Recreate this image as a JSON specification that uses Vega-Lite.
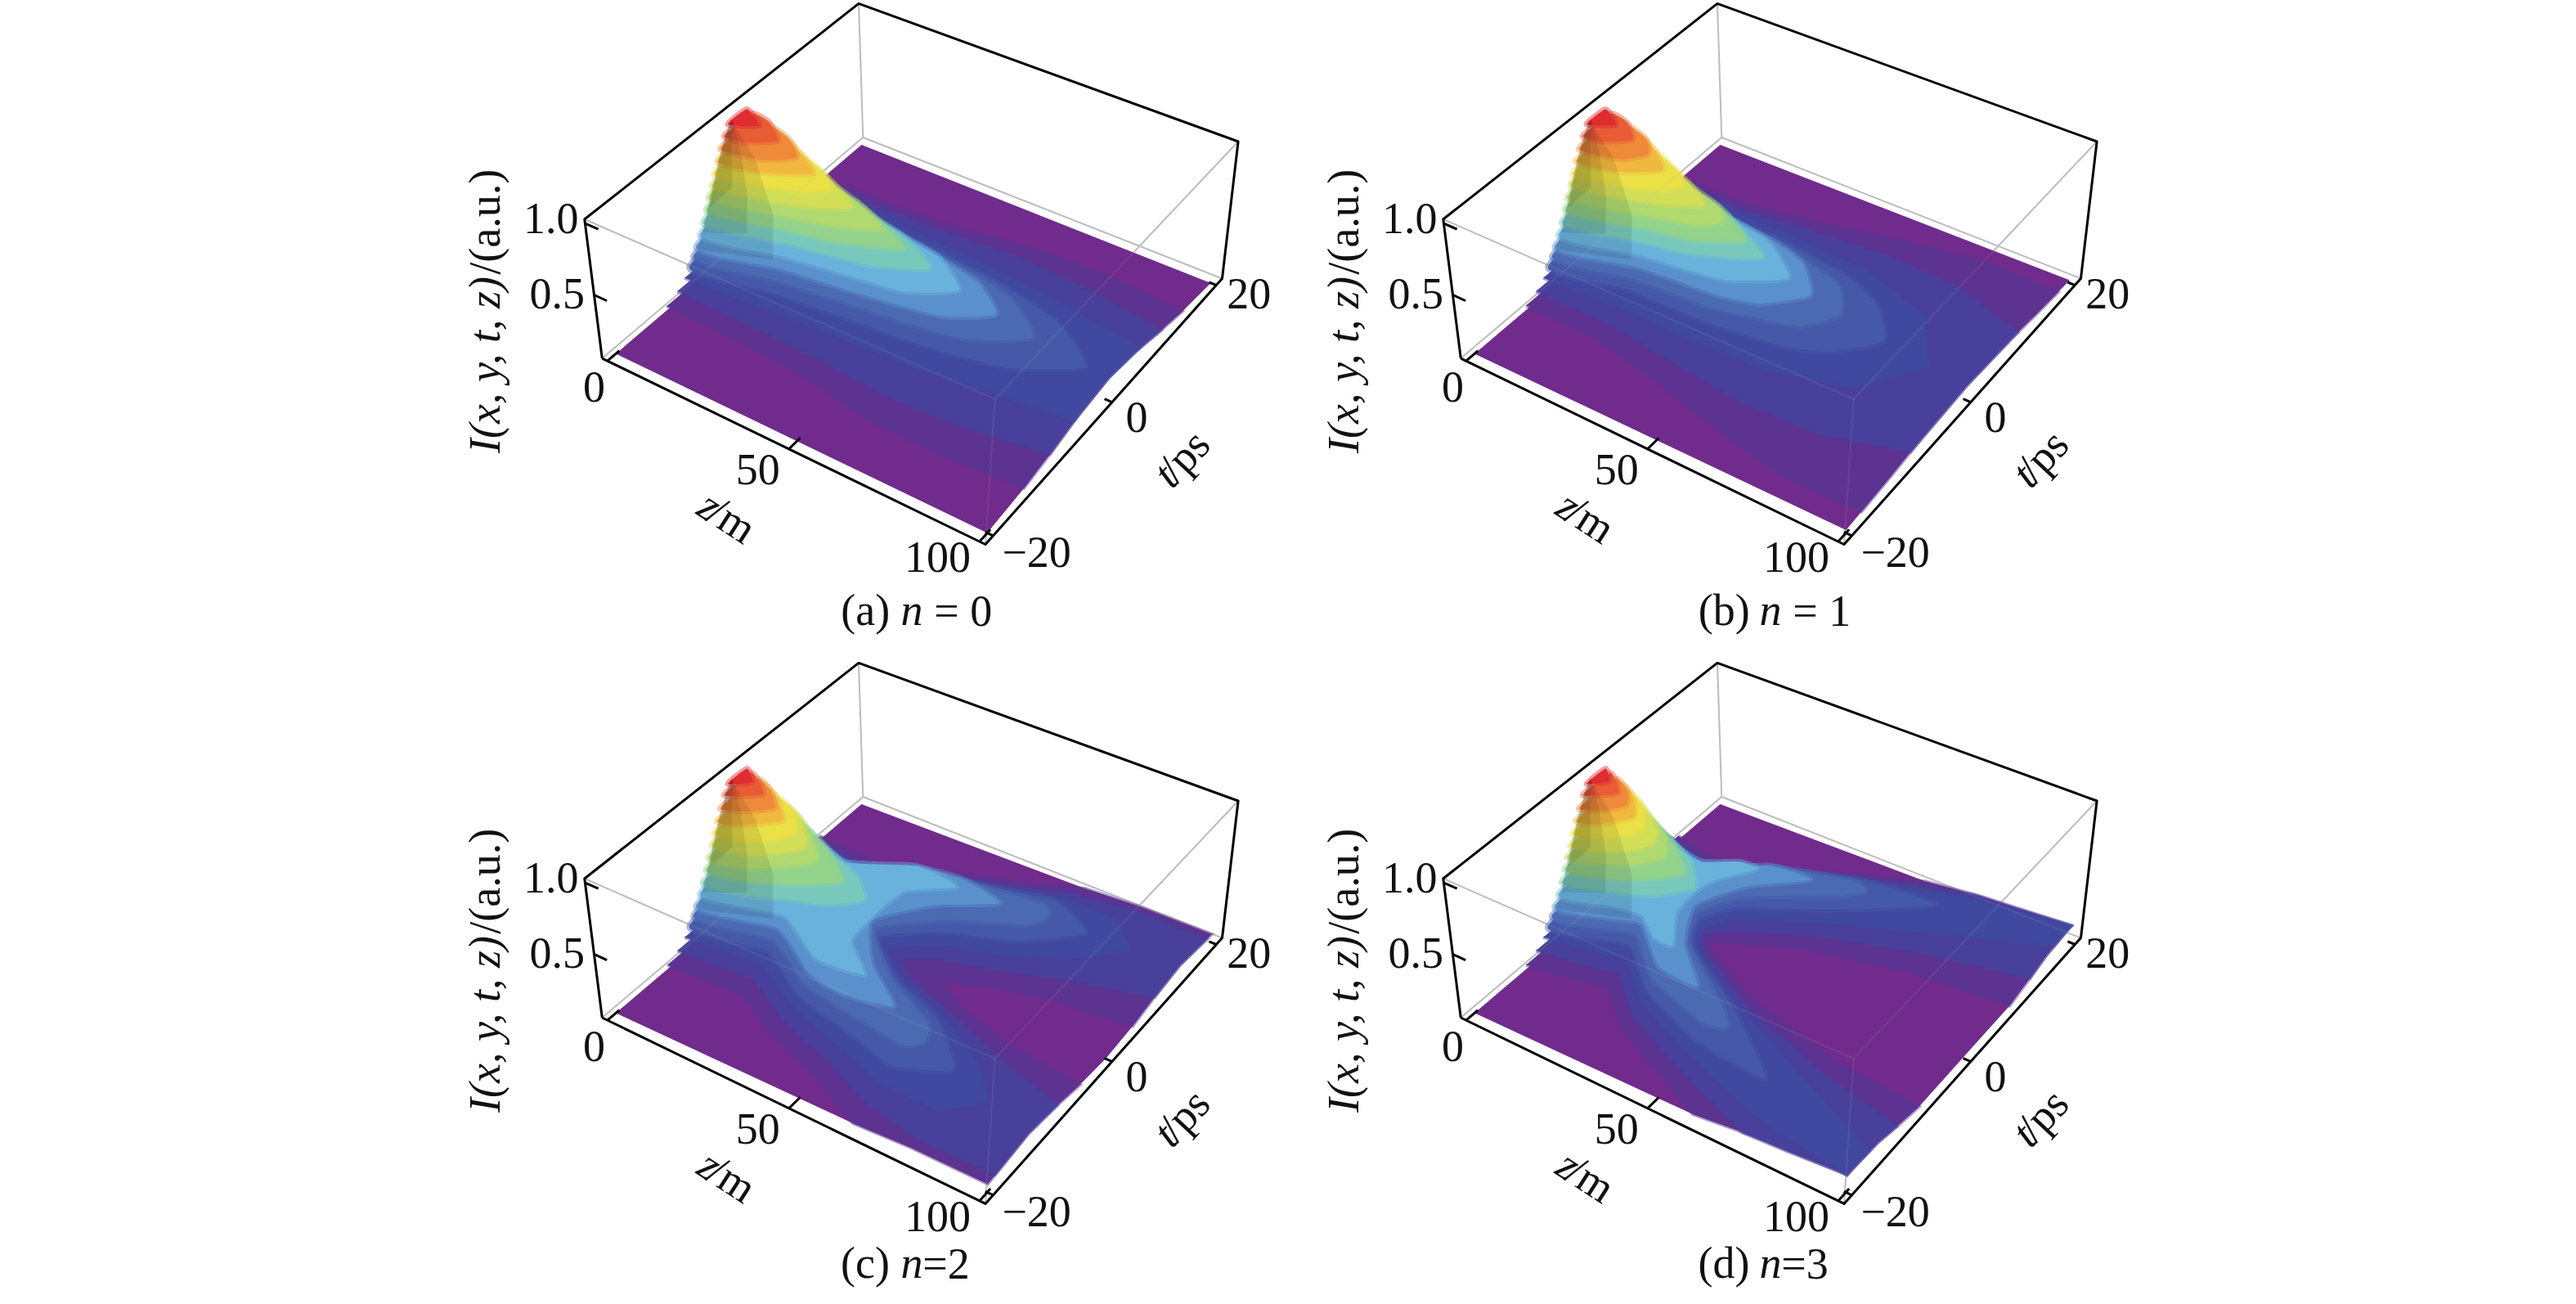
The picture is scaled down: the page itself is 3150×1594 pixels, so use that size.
{"$schema":"https://vega.github.io/schema/vega-lite/v6.json","background":"white","padding":{"left":537,"top":0,"right":0,"bottom":0},"spacing":0,"bounds":"flush","columns":2,"config":{"view":{"stroke":null}},
"data":{"values":[
{"p":"*","c":"g","e":"g1","z":-1.5,"t":-21.2,"i":103.1},{"p":"*","c":"g","e":"g1","z":101.5,"t":-21.2,"i":103.1},{"p":"*","c":"g","e":"g1","z":101.5,"t":21.2,"i":103.1},
{"p":"*","c":"g","e":"g2","z":-1.5,"t":21.2,"i":103.1},{"p":"*","c":"g","e":"g2","z":-1.5,"t":21.2,"i":0},{"p":"*","c":"g","e":"g2","z":101.5,"t":21.2,"i":0},
{"p":"*","c":"g","e":"g3","z":-1.5,"t":-21.2,"i":0},{"p":"*","c":"g","e":"g3","z":-1.5,"t":21.2,"i":0},
{"p":"*","c":"g","e":"g4","z":101.5,"t":-21.2,"i":103.1},{"p":"*","c":"g","e":"g4","z":101.5,"t":-21.2,"i":0},
{"p":"*","c":"k","e":"k1","z":-1.5,"t":-21.2,"i":0},{"p":"*","c":"k","e":"k1","z":-1.5,"t":-21.2,"i":103.1},{"p":"*","c":"k","e":"k1","z":-1.5,"t":21.2,"i":103.1},{"p":"*","c":"k","e":"k1","z":101.5,"t":21.2,"i":103.1},{"p":"*","c":"k","e":"k1","z":101.5,"t":21.2,"i":0},{"p":"*","c":"k","e":"k1","z":101.5,"t":-21.2,"i":0},{"p":"*","c":"k","e":"k1","z":-1.5,"t":-21.2,"i":0},
{"p":"*","c":"k","e":"z0","z":0,"t":-21.2,"i":0},{"p":"*","c":"k","e":"z0","z":0,"t":-19.5,"i":0},{"p":"*","c":"k","e":"z5","z":50,"t":-21.2,"i":0},{"p":"*","c":"k","e":"z5","z":50,"t":-19.5,"i":0},{"p":"*","c":"k","e":"z9","z":100,"t":-21.2,"i":0},{"p":"*","c":"k","e":"z9","z":100,"t":-19.5,"i":0},
{"p":"*","c":"k","e":"t0","z":101.5,"t":-20,"i":0},{"p":"*","c":"k","e":"t0","z":99.5,"t":-20,"i":0},{"p":"*","c":"k","e":"t5","z":101.5,"t":0,"i":0},{"p":"*","c":"k","e":"t5","z":99.5,"t":0,"i":0},{"p":"*","c":"k","e":"t9","z":101.5,"t":20,"i":0},{"p":"*","c":"k","e":"t9","z":99.5,"t":20,"i":0},
{"p":"*","c":"k","e":"i5","z":-1.5,"t":-21.2,"i":47},{"p":"*","c":"k","e":"i5","z":2,"t":-21.2,"i":47},{"p":"*","c":"k","e":"i9","z":-1.5,"t":-21.2,"i":100},{"p":"*","c":"k","e":"i9","z":2,"t":-21.2,"i":100},
{"p":"*","h":1,"z":0,"t":-7.4,"i":24},{"p":"*","h":1,"z":0,"t":-6.6,"i":33},{"p":"*","h":1,"z":0,"t":-5.4,"i":47},{"p":"*","h":1,"z":0,"t":-4.4,"i":61},{"p":"*","h":1,"z":0,"t":-3.3,"i":75},{"p":"*","h":1,"z":0,"t":-2,"i":89},{"p":"*","h":1,"z":0,"t":-1,"i":97},{"p":"*","h":1,"z":8,"t":-2,"i":80},{"p":"*","h":1,"z":15,"t":-3.5,"i":52},{"p":"*","h":1,"z":18,"t":-5.5,"i":30},
{"p":"*","h":2,"z":0,"t":-6.4,"i":33},{"p":"*","h":2,"z":0,"t":-5.3,"i":47},{"p":"*","h":2,"z":0,"t":-4.3,"i":61},{"p":"*","h":2,"z":0,"t":-3.2,"i":75},{"p":"*","h":2,"z":0,"t":-1.9,"i":89},{"p":"*","h":2,"z":0,"t":-0.8,"i":97},{"p":"*","h":2,"z":4,"t":-2,"i":82},{"p":"*","h":2,"z":8,"t":-3.5,"i":58},{"p":"*","h":2,"z":10,"t":-5,"i":38},
{"p":"*","h":3,"z":0,"t":-5.1,"i":47},{"p":"*","h":3,"z":0,"t":-4.1,"i":61},{"p":"*","h":3,"z":0,"t":-3.1,"i":75},{"p":"*","h":3,"z":0,"t":-1.8,"i":89},{"p":"*","h":3,"z":0,"t":-0.7,"i":97},{"p":"*","h":3,"z":2,"t":-2.2,"i":82},{"p":"*","h":3,"z":4,"t":-3.6,"i":60},
{"p":"*","f":"r","o":"h","s":"0","z":3.5,"t":-24.8},{"p":"*","f":"r","o":"h","s":"50","z":48.5,"t":-24.9},{"p":"*","f":"r","o":"h","s":"100","z":95.3,"t":-24.8},{"p":"*","f":"r","o":"h","s":"−20","z":112.1,"t":-19.7},{"p":"*","f":"r","o":"h","s":"0","z":109,"t":-0.7},{"p":"*","f":"r","o":"h","s":"20","z":109.8,"t":20.4},{"p":"*","f":"r","o":"h","s":"1.0","z":-42.7,"t":-8.1},{"p":"*","f":"r","o":"h","s":"0.5","z":-23.5,"t":-16.7},
{"p":"*","f":"i","o":"z","s":"z","z":46.5,"t":-30.7},{"p":"*","f":"r","o":"z","s":"/m","z":52.9,"t":-31},{"p":"*","f":"i","o":"t","s":"t","z":123.8,"t":-5.6},{"p":"*","f":"r","o":"t","s":"/ps","z":124.2,"t":-2.5},
{"p":"*","f":"i","o":"v","s":"I(x, y, t, z)","z":-20.6,"t":-27.8},{"p":"*","f":"r","o":"v","s":"/(a.u.)","z":-54.2,"t":-12},
{"p":"a","f":"r","o":"h","s":"(a)","z":91.7,"t":-33.3,"i":2.3},{"p":"a","f":"i","o":"h","s":"n","z":99.7,"t":-31.2,"i":2.3},{"p":"a","f":"r","o":"h","s":"= 0","z":108.6,"t":-28.9,"i":2.3},
{"p":"b","f":"r","o":"h","s":"(b)","z":91.7,"t":-33.3,"i":2.3},{"p":"b","f":"i","o":"h","s":"n","z":99.7,"t":-31.2,"i":2.3},{"p":"b","f":"r","o":"h","s":"= 1","z":108.6,"t":-28.9,"i":2.3},
{"p":"c","f":"r","o":"h","s":"(c)","z":91.6,"t":-33.3,"i":7},{"p":"c","f":"i","o":"h","s":"n","z":99.6,"t":-31.2,"i":7},{"p":"c","f":"r","o":"h","s":"=2","z":105.6,"t":-29.7,"i":7},
{"p":"d","f":"r","o":"h","s":"(d)","z":91.6,"t":-33.3,"i":7},{"p":"d","f":"i","o":"h","s":"n","z":99.6,"t":-31.2,"i":7},{"p":"d","f":"r","o":"h","s":"=3","z":105.6,"t":-29.7,"i":7},

{"p":"a","l":0,"z":0,"t":-20},{"p":"a","l":0,"z":100,"t":-20},{"p":"a","l":0,"z":100,"t":-14,"i":3},{"p":"a","l":0,"z":100,"t":-10,"i":7},{"p":"a","l":0,"z":100,"t":-5,"i":13},{"p":"a","l":0,"z":100,"t":0,"i":16},{"p":"a","l":0,"z":100,"t":5,"i":13},{"p":"a","l":0,"z":100,"t":10,"i":7},{"p":"a","l":0,"z":100,"t":14,"i":3},{"p":"a","l":0,"z":100,"t":20},{"p":"a","l":0,"z":0,"t":20},
{"p":"a","l":3,"z":0,"t":12.5},{"p":"a","l":3,"z":20,"t":12.6},{"p":"a","l":3,"z":40,"t":13.2},{"p":"a","l":3,"z":60,"t":14.7},{"p":"a","l":3,"z":80,"t":14.8},{"p":"a","l":3,"z":100,"t":14.2},{"p":"a","l":3,"z":100,"t":10,"i":7},{"p":"a","l":3,"z":100,"t":5,"i":13},{"p":"a","l":3,"z":100,"t":0,"i":16},{"p":"a","l":3,"z":100,"t":-5,"i":13},{"p":"a","l":3,"z":100,"t":-10,"i":7},{"p":"a","l":3,"z":100,"t":-14.2},{"p":"a","l":3,"z":80,"t":-14.8},{"p":"a","l":3,"z":60,"t":-14.7},{"p":"a","l":3,"z":40,"t":-13.2},{"p":"a","l":3,"z":20,"t":-12.6},{"p":"a","l":3,"z":0,"t":-12.5},
{"p":"a","l":7,"z":0,"t":10.8},{"p":"a","l":7,"z":20,"t":10.8},{"p":"a","l":7,"z":40,"t":11.1},{"p":"a","l":7,"z":60,"t":11.8},{"p":"a","l":7,"z":80,"t":11.2},{"p":"a","l":7,"z":100,"t":10},{"p":"a","l":7,"z":100,"t":5,"i":13},{"p":"a","l":7,"z":100,"t":0,"i":16},{"p":"a","l":7,"z":100,"t":-5,"i":13},{"p":"a","l":7,"z":100,"t":-10},{"p":"a","l":7,"z":80,"t":-11.2},{"p":"a","l":7,"z":60,"t":-11.8},{"p":"a","l":7,"z":40,"t":-11.1},{"p":"a","l":7,"z":20,"t":-10.8},{"p":"a","l":7,"z":0,"t":-10.8},
{"p":"a","l":12,"z":0,"t":9.6},{"p":"a","l":12,"z":20,"t":9},{"p":"a","l":12,"z":40,"t":8.4},{"p":"a","l":12,"z":60,"t":8},{"p":"a","l":12,"z":80,"t":7},{"p":"a","l":12,"z":100,"t":5.9},{"p":"a","l":12,"z":100,"t":0,"i":16},{"p":"a","l":12,"z":100,"t":-5.9},{"p":"a","l":12,"z":80,"t":-7},{"p":"a","l":12,"z":60,"t":-8},{"p":"a","l":12,"z":40,"t":-8.4},{"p":"a","l":12,"z":20,"t":-9},{"p":"a","l":12,"z":0,"t":-9.6},
{"p":"a","l":17,"z":0,"t":8.8},{"p":"a","l":17,"z":20,"t":7.5},{"p":"a","l":17,"z":40,"t":6.6},{"p":"a","l":17,"z":60,"t":5.8},{"p":"a","l":17,"z":80,"t":4},{"p":"a","l":17,"z":94,"t":0},{"p":"a","l":17,"z":80,"t":-4},{"p":"a","l":17,"z":60,"t":-5.8},{"p":"a","l":17,"z":40,"t":-6.6},{"p":"a","l":17,"z":20,"t":-7.5},{"p":"a","l":17,"z":0,"t":-8.8},
{"p":"a","l":22,"z":0,"t":8.1},{"p":"a","l":22,"z":20,"t":6.6},{"p":"a","l":22,"z":40,"t":5.5},{"p":"a","l":22,"z":60,"t":4.4},{"p":"a","l":22,"z":70,"t":3.2},{"p":"a","l":22,"z":80,"t":0},{"p":"a","l":22,"z":70,"t":-3.2},{"p":"a","l":22,"z":60,"t":-4.4},{"p":"a","l":22,"z":40,"t":-5.5},{"p":"a","l":22,"z":20,"t":-6.6},{"p":"a","l":22,"z":0,"t":-8.1},
{"p":"a","l":27,"z":0,"t":7.6},{"p":"a","l":27,"z":20,"t":5.8},{"p":"a","l":27,"z":40,"t":4.6},{"p":"a","l":27,"z":60,"t":3},{"p":"a","l":27,"z":70,"t":0},{"p":"a","l":27,"z":60,"t":-3},{"p":"a","l":27,"z":40,"t":-4.6},{"p":"a","l":27,"z":20,"t":-5.8},{"p":"a","l":27,"z":0,"t":-7.6},
{"p":"a","l":33,"z":0,"t":6.9},{"p":"a","l":33,"z":20,"t":5.1},{"p":"a","l":33,"z":40,"t":3.7},{"p":"a","l":33,"z":50,"t":3},{"p":"a","l":33,"z":60,"t":0},{"p":"a","l":33,"z":50,"t":-3},{"p":"a","l":33,"z":40,"t":-3.7},{"p":"a","l":33,"z":20,"t":-5.1},{"p":"a","l":33,"z":0,"t":-6.9},
{"p":"a","l":40,"z":0,"t":6.3},{"p":"a","l":40,"z":20,"t":4.4},{"p":"a","l":40,"z":40,"t":2.7},{"p":"a","l":40,"z":52,"t":0},{"p":"a","l":40,"z":40,"t":-2.7},{"p":"a","l":40,"z":20,"t":-4.4},{"p":"a","l":40,"z":0,"t":-6.3},
{"p":"a","l":47,"z":0,"t":5.7},{"p":"a","l":47,"z":20,"t":3.8},{"p":"a","l":47,"z":30,"t":2.9},{"p":"a","l":47,"z":45,"t":0},{"p":"a","l":47,"z":30,"t":-2.9},{"p":"a","l":47,"z":20,"t":-3.8},{"p":"a","l":47,"z":0,"t":-5.7},
{"p":"a","l":54,"z":0,"t":5.2},{"p":"a","l":54,"z":20,"t":3.2},{"p":"a","l":54,"z":30,"t":2},{"p":"a","l":54,"z":39,"t":0},{"p":"a","l":54,"z":30,"t":-2},{"p":"a","l":54,"z":20,"t":-3.2},{"p":"a","l":54,"z":0,"t":-5.2},
{"p":"a","l":61,"z":0,"t":4.6},{"p":"a","l":61,"z":10,"t":3.9},{"p":"a","l":61,"z":20,"t":2.6},{"p":"a","l":61,"z":31,"t":0},{"p":"a","l":61,"z":20,"t":-2.6},{"p":"a","l":61,"z":10,"t":-3.9},{"p":"a","l":61,"z":0,"t":-4.6},
{"p":"a","l":68,"z":0,"t":4.1},{"p":"a","l":68,"z":10,"t":3.3},{"p":"a","l":68,"z":20,"t":1.8},{"p":"a","l":68,"z":25,"t":0},{"p":"a","l":68,"z":20,"t":-1.8},{"p":"a","l":68,"z":10,"t":-3.3},{"p":"a","l":68,"z":0,"t":-4.1},
{"p":"a","l":75,"z":0,"t":3.5},{"p":"a","l":75,"z":10,"t":2.7},{"p":"a","l":75,"z":20.5,"t":0},{"p":"a","l":75,"z":10,"t":-2.7},{"p":"a","l":75,"z":0,"t":-3.5},
{"p":"a","l":82,"z":0,"t":2.9},{"p":"a","l":82,"z":10,"t":2.1},{"p":"a","l":82,"z":16,"t":0},{"p":"a","l":82,"z":10,"t":-2.1},{"p":"a","l":82,"z":0,"t":-2.9},
{"p":"a","l":89,"z":0,"t":2.2},{"p":"a","l":89,"z":5,"t":2},{"p":"a","l":89,"z":11,"t":0},{"p":"a","l":89,"z":5,"t":-2},{"p":"a","l":89,"z":0,"t":-2.2},
{"p":"a","l":95,"z":0,"t":1.5},{"p":"a","l":95,"z":6,"t":0},{"p":"a","l":95,"z":0,"t":-1.5},

{"p":"b","l":0,"z":0,"t":-20},{"p":"b","l":0,"z":100,"t":-20,"i":2},{"p":"b","l":0,"z":100,"t":-13,"i":5},{"p":"b","l":0,"z":100,"t":-8,"i":8},{"p":"b","l":0,"z":100,"t":0,"i":10},{"p":"b","l":0,"z":100,"t":8,"i":8},{"p":"b","l":0,"z":100,"t":13,"i":5},{"p":"b","l":0,"z":100,"t":20,"i":2},{"p":"b","l":0,"z":0,"t":20},
{"p":"b","l":3,"z":0,"t":12.4},{"p":"b","l":3,"z":20,"t":12.5},{"p":"b","l":3,"z":40,"t":14.1},{"p":"b","l":3,"z":60,"t":16.2},{"p":"b","l":3,"z":80,"t":17.8},{"p":"b","l":3,"z":100,"t":17.6},{"p":"b","l":3,"z":100,"t":13,"i":5},{"p":"b","l":3,"z":100,"t":8,"i":8},{"p":"b","l":3,"z":100,"t":0,"i":10},{"p":"b","l":3,"z":100,"t":-8,"i":8},{"p":"b","l":3,"z":100,"t":-13,"i":5},{"p":"b","l":3,"z":100,"t":-17.6},{"p":"b","l":3,"z":80,"t":-17.8},{"p":"b","l":3,"z":60,"t":-16.2},{"p":"b","l":3,"z":40,"t":-14.1},{"p":"b","l":3,"z":20,"t":-12.5},{"p":"b","l":3,"z":0,"t":-12.4},
{"p":"b","l":7,"z":0,"t":10.8},{"p":"b","l":7,"z":20,"t":10.7},{"p":"b","l":7,"z":40,"t":11.7},{"p":"b","l":7,"z":60,"t":12.6},{"p":"b","l":7,"z":80,"t":12.2},{"p":"b","l":7,"z":100,"t":9.6},{"p":"b","l":7,"z":100,"t":0,"i":10},{"p":"b","l":7,"z":100,"t":-9.6},{"p":"b","l":7,"z":80,"t":-12.2},{"p":"b","l":7,"z":60,"t":-12.6},{"p":"b","l":7,"z":40,"t":-11.7},{"p":"b","l":7,"z":20,"t":-10.7},{"p":"b","l":7,"z":0,"t":-10.8},
{"p":"b","l":12,"z":0,"t":9.6},{"p":"b","l":12,"z":20,"t":9},{"p":"b","l":12,"z":40,"t":9},{"p":"b","l":12,"z":60,"t":8.6},{"p":"b","l":12,"z":80,"t":6},{"p":"b","l":12,"z":90,"t":0},{"p":"b","l":12,"z":80,"t":-6},{"p":"b","l":12,"z":60,"t":-8.6},{"p":"b","l":12,"z":40,"t":-9},{"p":"b","l":12,"z":20,"t":-9},{"p":"b","l":12,"z":0,"t":-9.6},
{"p":"b","l":17,"z":0,"t":8.8},{"p":"b","l":17,"z":20,"t":7.2},{"p":"b","l":17,"z":40,"t":7},{"p":"b","l":17,"z":60,"t":5.8},{"p":"b","l":17,"z":70,"t":4},{"p":"b","l":17,"z":78,"t":0},{"p":"b","l":17,"z":70,"t":-4},{"p":"b","l":17,"z":60,"t":-5.8},{"p":"b","l":17,"z":40,"t":-7},{"p":"b","l":17,"z":20,"t":-7.2},{"p":"b","l":17,"z":0,"t":-8.8},
{"p":"b","l":22,"z":0,"t":8.1},{"p":"b","l":22,"z":20,"t":6.4},{"p":"b","l":22,"z":40,"t":5.8},{"p":"b","l":22,"z":60,"t":3.5},{"p":"b","l":22,"z":66,"t":0},{"p":"b","l":22,"z":60,"t":-3.5},{"p":"b","l":22,"z":40,"t":-5.8},{"p":"b","l":22,"z":20,"t":-6.4},{"p":"b","l":22,"z":0,"t":-8.1},
{"p":"b","l":27,"z":0,"t":7.6},{"p":"b","l":27,"z":20,"t":5.6},{"p":"b","l":27,"z":40,"t":4.8},{"p":"b","l":27,"z":50,"t":3.6},{"p":"b","l":27,"z":58,"t":0},{"p":"b","l":27,"z":50,"t":-3.6},{"p":"b","l":27,"z":40,"t":-4.8},{"p":"b","l":27,"z":20,"t":-5.6},{"p":"b","l":27,"z":0,"t":-7.6},
{"p":"b","l":33,"z":0,"t":6.9},{"p":"b","l":33,"z":20,"t":5},{"p":"b","l":33,"z":40,"t":3.6},{"p":"b","l":33,"z":52,"t":0},{"p":"b","l":33,"z":40,"t":-3.6},{"p":"b","l":33,"z":20,"t":-5},{"p":"b","l":33,"z":0,"t":-6.9},
{"p":"b","l":40,"z":0,"t":6.3},{"p":"b","l":40,"z":20,"t":4.3},{"p":"b","l":40,"z":30,"t":3.4},{"p":"b","l":40,"z":45,"t":0},{"p":"b","l":40,"z":30,"t":-3.4},{"p":"b","l":40,"z":20,"t":-4.3},{"p":"b","l":40,"z":0,"t":-6.3},
{"p":"b","l":47,"z":0,"t":5.7},{"p":"b","l":47,"z":20,"t":3.6},{"p":"b","l":47,"z":30,"t":2.7},{"p":"b","l":47,"z":40,"t":0},{"p":"b","l":47,"z":30,"t":-2.7},{"p":"b","l":47,"z":20,"t":-3.6},{"p":"b","l":47,"z":0,"t":-5.7},
{"p":"b","l":54,"z":0,"t":5.2},{"p":"b","l":54,"z":20,"t":3},{"p":"b","l":54,"z":30,"t":1.8},{"p":"b","l":54,"z":34,"t":0},{"p":"b","l":54,"z":30,"t":-1.8},{"p":"b","l":54,"z":20,"t":-3},{"p":"b","l":54,"z":0,"t":-5.2},
{"p":"b","l":61,"z":0,"t":4.6},{"p":"b","l":61,"z":20,"t":2.3},{"p":"b","l":61,"z":29,"t":0},{"p":"b","l":61,"z":20,"t":-2.3},{"p":"b","l":61,"z":0,"t":-4.6},
{"p":"b","l":68,"z":0,"t":4.1},{"p":"b","l":68,"z":10,"t":3.3},{"p":"b","l":68,"z":20,"t":1.5},{"p":"b","l":68,"z":23,"t":0},{"p":"b","l":68,"z":20,"t":-1.5},{"p":"b","l":68,"z":10,"t":-3.3},{"p":"b","l":68,"z":0,"t":-4.1},
{"p":"b","l":75,"z":0,"t":3.5},{"p":"b","l":75,"z":10,"t":2.6},{"p":"b","l":75,"z":18,"t":0},{"p":"b","l":75,"z":10,"t":-2.6},{"p":"b","l":75,"z":0,"t":-3.5},
{"p":"b","l":82,"z":0,"t":2.9},{"p":"b","l":82,"z":10,"t":2},{"p":"b","l":82,"z":14,"t":0},{"p":"b","l":82,"z":10,"t":-2},{"p":"b","l":82,"z":0,"t":-2.9},
{"p":"b","l":89,"z":0,"t":2.2},{"p":"b","l":89,"z":5,"t":1.9},{"p":"b","l":89,"z":10,"t":0},{"p":"b","l":89,"z":5,"t":-1.9},{"p":"b","l":89,"z":0,"t":-2.2},
{"p":"b","l":95,"z":0,"t":1.5},{"p":"b","l":95,"z":5.5,"t":0},{"p":"b","l":95,"z":0,"t":-1.5},

{"p":"c","l":0,"z":0,"t":-20},{"p":"c","l":0,"z":65,"t":-20,"i":3},{"p":"c","l":0,"z":80,"t":-20,"i":5.5},{"p":"c","l":0,"z":100,"t":-20,"i":6},{"p":"c","l":0,"z":100,"t":-13.5,"i":10},{"p":"c","l":0,"z":100,"t":-8.7,"i":7},{"p":"c","l":0,"z":100,"t":-4.7,"i":3},{"p":"c","l":0,"z":100,"t":0,"i":1},{"p":"c","l":0,"z":100,"t":4.7,"i":3},{"p":"c","l":0,"z":100,"t":8.7,"i":7},{"p":"c","l":0,"z":100,"t":13.5,"i":10},{"p":"c","l":0,"z":100,"t":20,"i":6},{"p":"c","l":0,"z":80,"t":20,"i":5.5},{"p":"c","l":0,"z":65,"t":20,"i":3},{"p":"c","l":0,"z":0,"t":20},
{"p":"c","l":3,"z":0,"t":12.4},{"p":"c","l":3,"z":20,"t":11.9},{"p":"c","l":3,"z":35,"t":14.9},{"p":"c","l":3,"z":50,"t":17.1},{"p":"c","l":3,"z":65,"t":20},{"p":"c","l":3,"z":80,"t":20,"i":5.5},{"p":"c","l":3,"z":100,"t":20,"i":6},{"p":"c","l":3,"z":100,"t":13.5,"i":10},{"p":"c","l":3,"z":100,"t":8.7,"i":7},{"p":"c","l":3,"z":100,"t":4.7},{"p":"c","l":3,"z":80,"t":3.7},{"p":"c","l":3,"z":65,"t":2.1},{"p":"c","l":3,"z":55,"t":0},{"p":"c","l":3,"z":65,"t":-2.1},{"p":"c","l":3,"z":80,"t":-3.7},{"p":"c","l":3,"z":100,"t":-4.7},{"p":"c","l":3,"z":100,"t":-8.7,"i":7},{"p":"c","l":3,"z":100,"t":-13.5,"i":10},{"p":"c","l":3,"z":100,"t":-20,"i":6},{"p":"c","l":3,"z":80,"t":-20,"i":5.5},{"p":"c","l":3,"z":65,"t":-20},{"p":"c","l":3,"z":50,"t":-17.1},{"p":"c","l":3,"z":35,"t":-14.9},{"p":"c","l":3,"z":20,"t":-11.9},{"p":"c","l":3,"z":0,"t":-12.4},
{"p":"c","l":7,"z":0,"t":10.8},{"p":"c","l":7,"z":20,"t":10},{"p":"c","l":7,"z":35,"t":13.3},{"p":"c","l":7,"z":50,"t":15.3},{"p":"c","l":7,"z":65,"t":17.8},{"p":"c","l":7,"z":80,"t":19},{"p":"c","l":7,"z":100,"t":18.9},{"p":"c","l":7,"z":100,"t":13.5,"i":10},{"p":"c","l":7,"z":100,"t":8.7},{"p":"c","l":7,"z":80,"t":6.3},{"p":"c","l":7,"z":65,"t":3.9},{"p":"c","l":7,"z":50,"t":1.9},{"p":"c","l":7,"z":44,"t":0},{"p":"c","l":7,"z":50,"t":-1.9},{"p":"c","l":7,"z":65,"t":-3.9},{"p":"c","l":7,"z":80,"t":-6.3},{"p":"c","l":7,"z":100,"t":-8.7},{"p":"c","l":7,"z":100,"t":-13.5,"i":10},{"p":"c","l":7,"z":100,"t":-18.9},{"p":"c","l":7,"z":80,"t":-19},{"p":"c","l":7,"z":65,"t":-17.8},{"p":"c","l":7,"z":50,"t":-15.3},{"p":"c","l":7,"z":35,"t":-13.3},{"p":"c","l":7,"z":20,"t":-10},{"p":"c","l":7,"z":0,"t":-10.8},
{"p":"c","l":12,"z":0,"t":9.6},{"p":"c","l":12,"z":20,"t":8.6},{"p":"c","l":12,"z":35,"t":12},{"p":"c","l":12,"z":50,"t":13.8},{"p":"c","l":12,"z":65,"t":15.8},{"p":"c","l":12,"z":80,"t":15.8},{"p":"c","l":12,"z":88,"t":12.5},{"p":"c","l":12,"z":80,"t":9},{"p":"c","l":12,"z":65,"t":5.4},{"p":"c","l":12,"z":50,"t":3.2},{"p":"c","l":12,"z":40,"t":0},{"p":"c","l":12,"z":50,"t":-3.2},{"p":"c","l":12,"z":65,"t":-5.4},{"p":"c","l":12,"z":80,"t":-9},{"p":"c","l":12,"z":88,"t":-12.5},{"p":"c","l":12,"z":80,"t":-15.8},{"p":"c","l":12,"z":65,"t":-15.8},{"p":"c","l":12,"z":50,"t":-13.8},{"p":"c","l":12,"z":35,"t":-12},{"p":"c","l":12,"z":20,"t":-8.6},{"p":"c","l":12,"z":0,"t":-9.6},
{"p":"c","l":17,"z":0,"t":8.8},{"p":"c","l":17,"z":20,"t":7.6},{"p":"c","l":17,"z":35,"t":11.1},{"p":"c","l":17,"z":50,"t":12.5},{"p":"c","l":17,"z":65,"t":14.1},{"p":"c","l":17,"z":77,"t":11.5},{"p":"c","l":17,"z":65,"t":6.8},{"p":"c","l":17,"z":50,"t":4.2},{"p":"c","l":17,"z":38,"t":0},{"p":"c","l":17,"z":50,"t":-4.2},{"p":"c","l":17,"z":65,"t":-6.8},{"p":"c","l":17,"z":77,"t":-11.5},{"p":"c","l":17,"z":65,"t":-14.1},{"p":"c","l":17,"z":50,"t":-12.5},{"p":"c","l":17,"z":35,"t":-11.1},{"p":"c","l":17,"z":20,"t":-7.6},{"p":"c","l":17,"z":0,"t":-8.8},
{"p":"c","l":22,"z":0,"t":8.1},{"p":"c","l":22,"z":20,"t":6.7},{"p":"c","l":22,"z":35,"t":10.2},{"p":"c","l":22,"z":50,"t":11.3},{"p":"c","l":22,"z":65,"t":12},{"p":"c","l":22,"z":68,"t":10.5},{"p":"c","l":22,"z":65,"t":8.4},{"p":"c","l":22,"z":50,"t":5.2},{"p":"c","l":22,"z":37,"t":0},{"p":"c","l":22,"z":50,"t":-5.2},{"p":"c","l":22,"z":65,"t":-8.4},{"p":"c","l":22,"z":68,"t":-10.5},{"p":"c","l":22,"z":65,"t":-12},{"p":"c","l":22,"z":50,"t":-11.3},{"p":"c","l":22,"z":35,"t":-10.2},{"p":"c","l":22,"z":20,"t":-6.7},{"p":"c","l":22,"z":0,"t":-8.1},
{"p":"c","l":27,"z":0,"t":7.6},{"p":"c","l":27,"z":20,"t":5.9},{"p":"c","l":27,"z":35,"t":9.5},{"p":"c","l":27,"z":45,"t":10.2},{"p":"c","l":27,"z":57,"t":9},{"p":"c","l":27,"z":45,"t":5.3},{"p":"c","l":27,"z":36,"t":0},{"p":"c","l":27,"z":45,"t":-5.3},{"p":"c","l":27,"z":57,"t":-9},{"p":"c","l":27,"z":45,"t":-10.2},{"p":"c","l":27,"z":35,"t":-9.5},{"p":"c","l":27,"z":20,"t":-5.9},{"p":"c","l":27,"z":0,"t":-7.6},
{"p":"c","l":33,"z":0,"t":6.9},{"p":"c","l":33,"z":20,"t":5},{"p":"c","l":33,"z":35,"t":8.4},{"p":"c","l":33,"z":47,"t":7.8},{"p":"c","l":33,"z":38,"t":4.5},{"p":"c","l":33,"z":37,"t":0},{"p":"c","l":33,"z":38,"t":-4.5},{"p":"c","l":33,"z":47,"t":-7.8},{"p":"c","l":33,"z":35,"t":-8.4},{"p":"c","l":33,"z":20,"t":-5},{"p":"c","l":33,"z":0,"t":-6.9},
{"p":"c","l":40,"z":0,"t":6.3},{"p":"c","l":40,"z":10,"t":5.8},{"p":"c","l":40,"z":20,"t":3.9},{"p":"c","l":40,"z":28,"t":2.5},{"p":"c","l":40,"z":34,"t":0},{"p":"c","l":40,"z":28,"t":-2.5},{"p":"c","l":40,"z":20,"t":-3.9},{"p":"c","l":40,"z":10,"t":-5.8},{"p":"c","l":40,"z":0,"t":-6.3},
{"p":"c","l":47,"z":0,"t":5.7},{"p":"c","l":47,"z":10,"t":5},{"p":"c","l":47,"z":20,"t":2.8},{"p":"c","l":47,"z":28,"t":0},{"p":"c","l":47,"z":20,"t":-2.8},{"p":"c","l":47,"z":10,"t":-5},{"p":"c","l":47,"z":0,"t":-5.7},
{"p":"c","l":54,"z":0,"t":5.2},{"p":"c","l":54,"z":10,"t":4.4},{"p":"c","l":54,"z":21,"t":0},{"p":"c","l":54,"z":10,"t":-4.4},{"p":"c","l":54,"z":0,"t":-5.2},
{"p":"c","l":61,"z":0,"t":4.6},{"p":"c","l":61,"z":10,"t":3.7},{"p":"c","l":61,"z":18,"t":0},{"p":"c","l":61,"z":10,"t":-3.7},{"p":"c","l":61,"z":0,"t":-4.6},
{"p":"c","l":68,"z":0,"t":4.1},{"p":"c","l":68,"z":10,"t":2.9},{"p":"c","l":68,"z":15,"t":0},{"p":"c","l":68,"z":10,"t":-2.9},{"p":"c","l":68,"z":0,"t":-4.1},
{"p":"c","l":75,"z":0,"t":3.5},{"p":"c","l":75,"z":5,"t":2.9},{"p":"c","l":75,"z":12,"t":0},{"p":"c","l":75,"z":5,"t":-2.9},{"p":"c","l":75,"z":0,"t":-3.5},
{"p":"c","l":82,"z":0,"t":2.9},{"p":"c","l":82,"z":5,"t":2.1},{"p":"c","l":82,"z":10,"t":0},{"p":"c","l":82,"z":5,"t":-2.1},{"p":"c","l":82,"z":0,"t":-2.9},
{"p":"c","l":89,"z":0,"t":2.2},{"p":"c","l":89,"z":7,"t":0},{"p":"c","l":89,"z":0,"t":-2.2},
{"p":"c","l":95,"z":0,"t":1.5},{"p":"c","l":95,"z":4,"t":0},{"p":"c","l":95,"z":0,"t":-1.5},

{"p":"d","l":0,"z":0,"t":-20},{"p":"d","l":0,"z":60,"t":-20,"i":3},{"p":"d","l":0,"z":75,"t":-20,"i":8},{"p":"d","l":0,"z":100,"t":-20,"i":12.6},{"p":"d","l":0,"z":100,"t":-19,"i":13},{"p":"d","l":0,"z":100,"t":-15,"i":11},{"p":"d","l":0,"z":100,"t":-8.1,"i":3},{"p":"d","l":0,"z":100,"t":8.1,"i":3},{"p":"d","l":0,"z":100,"t":15,"i":11},{"p":"d","l":0,"z":100,"t":19,"i":13},{"p":"d","l":0,"z":100,"t":20,"i":12.6},{"p":"d","l":0,"z":75,"t":20,"i":8},{"p":"d","l":0,"z":60,"t":20,"i":3},{"p":"d","l":0,"z":0,"t":20},
{"p":"d","l":3,"z":0,"t":12.4},{"p":"d","l":3,"z":13,"t":11.4},{"p":"d","l":3,"z":20,"t":10.9},{"p":"d","l":3,"z":32,"t":14.7},{"p":"d","l":3,"z":50,"t":18.2},{"p":"d","l":3,"z":60,"t":20},{"p":"d","l":3,"z":75,"t":20,"i":8},{"p":"d","l":3,"z":100,"t":20,"i":12.6},{"p":"d","l":3,"z":100,"t":15,"i":11},{"p":"d","l":3,"z":100,"t":11.5,"i":6.5},{"p":"d","l":3,"z":100,"t":8.1},{"p":"d","l":3,"z":75,"t":7.1},{"p":"d","l":3,"z":50,"t":4.5},{"p":"d","l":3,"z":32,"t":0.8},{"p":"d","l":3,"z":30,"t":0},{"p":"d","l":3,"z":32,"t":-0.8},{"p":"d","l":3,"z":50,"t":-4.5},{"p":"d","l":3,"z":75,"t":-7.1},{"p":"d","l":3,"z":100,"t":-8.1},{"p":"d","l":3,"z":100,"t":-11.5,"i":6.5},{"p":"d","l":3,"z":100,"t":-15,"i":11},{"p":"d","l":3,"z":100,"t":-20,"i":12.6},{"p":"d","l":3,"z":75,"t":-20,"i":8},{"p":"d","l":3,"z":60,"t":-20},{"p":"d","l":3,"z":50,"t":-18.2},{"p":"d","l":3,"z":32,"t":-14.7},{"p":"d","l":3,"z":20,"t":-10.9},{"p":"d","l":3,"z":13,"t":-11.4},{"p":"d","l":3,"z":0,"t":-12.4},
{"p":"d","l":7,"z":0,"t":10.8},{"p":"d","l":7,"z":13,"t":9.7},{"p":"d","l":7,"z":20,"t":9.1},{"p":"d","l":7,"z":32,"t":13.2},{"p":"d","l":7,"z":50,"t":16.5},{"p":"d","l":7,"z":73,"t":20},{"p":"d","l":7,"z":85,"t":20,"i":9},{"p":"d","l":7,"z":100,"t":20,"i":12.6},{"p":"d","l":7,"z":100,"t":15,"i":11},{"p":"d","l":7,"z":100,"t":11.9},{"p":"d","l":7,"z":75,"t":9.6},{"p":"d","l":7,"z":50,"t":6},{"p":"d","l":7,"z":32,"t":2},{"p":"d","l":7,"z":28,"t":0},{"p":"d","l":7,"z":32,"t":-2},{"p":"d","l":7,"z":50,"t":-6},{"p":"d","l":7,"z":75,"t":-9.6},{"p":"d","l":7,"z":100,"t":-11.9},{"p":"d","l":7,"z":100,"t":-15,"i":11},{"p":"d","l":7,"z":100,"t":-20,"i":12.6},{"p":"d","l":7,"z":85,"t":-20,"i":9},{"p":"d","l":7,"z":73,"t":-20},{"p":"d","l":7,"z":50,"t":-16.5},{"p":"d","l":7,"z":32,"t":-13.2},{"p":"d","l":7,"z":20,"t":-9.1},{"p":"d","l":7,"z":13,"t":-9.7},{"p":"d","l":7,"z":0,"t":-10.8},
{"p":"d","l":12,"z":0,"t":9.6},{"p":"d","l":12,"z":13,"t":8.5},{"p":"d","l":12,"z":20,"t":7.8},{"p":"d","l":12,"z":32,"t":12},{"p":"d","l":12,"z":50,"t":15.2},{"p":"d","l":12,"z":75,"t":18.5},{"p":"d","l":12,"z":100,"t":20},{"p":"d","l":12,"z":100,"t":19,"i":13},{"p":"d","l":12,"z":100,"t":16.5},{"p":"d","l":12,"z":75,"t":12},{"p":"d","l":12,"z":50,"t":7.3},{"p":"d","l":12,"z":32,"t":3},{"p":"d","l":12,"z":28,"t":0},{"p":"d","l":12,"z":32,"t":-3},{"p":"d","l":12,"z":50,"t":-7.3},{"p":"d","l":12,"z":75,"t":-12},{"p":"d","l":12,"z":100,"t":-16.5},{"p":"d","l":12,"z":100,"t":-19,"i":13},{"p":"d","l":12,"z":100,"t":-20},{"p":"d","l":12,"z":75,"t":-18.5},{"p":"d","l":12,"z":50,"t":-15.2},{"p":"d","l":12,"z":32,"t":-12},{"p":"d","l":12,"z":20,"t":-7.8},{"p":"d","l":12,"z":13,"t":-8.5},{"p":"d","l":12,"z":0,"t":-9.6},
{"p":"d","l":17,"z":0,"t":8.8},{"p":"d","l":17,"z":13,"t":7.5},{"p":"d","l":17,"z":20,"t":6.8},{"p":"d","l":17,"z":32,"t":11},{"p":"d","l":17,"z":50,"t":14},{"p":"d","l":17,"z":70,"t":14.7},{"p":"d","l":17,"z":50,"t":8.3},{"p":"d","l":17,"z":32,"t":3.8},{"p":"d","l":17,"z":27,"t":0},{"p":"d","l":17,"z":32,"t":-3.8},{"p":"d","l":17,"z":50,"t":-8.3},{"p":"d","l":17,"z":70,"t":-14.7},{"p":"d","l":17,"z":50,"t":-14},{"p":"d","l":17,"z":32,"t":-11},{"p":"d","l":17,"z":20,"t":-6.8},{"p":"d","l":17,"z":13,"t":-7.5},{"p":"d","l":17,"z":0,"t":-8.8},
{"p":"d","l":22,"z":0,"t":8.1},{"p":"d","l":22,"z":13,"t":6.8},{"p":"d","l":22,"z":20,"t":5.9},{"p":"d","l":22,"z":32,"t":10.2},{"p":"d","l":22,"z":50,"t":12.5},{"p":"d","l":22,"z":55,"t":11.8},{"p":"d","l":22,"z":50,"t":9.7},{"p":"d","l":22,"z":32,"t":4.4},{"p":"d","l":22,"z":26.5,"t":0},{"p":"d","l":22,"z":32,"t":-4.4},{"p":"d","l":22,"z":50,"t":-9.7},{"p":"d","l":22,"z":55,"t":-11.8},{"p":"d","l":22,"z":50,"t":-12.5},{"p":"d","l":22,"z":32,"t":-10.2},{"p":"d","l":22,"z":20,"t":-5.9},{"p":"d","l":22,"z":13,"t":-6.8},{"p":"d","l":22,"z":0,"t":-8.1},
{"p":"d","l":27,"z":0,"t":7.6},{"p":"d","l":27,"z":13,"t":6.1},{"p":"d","l":27,"z":20,"t":5.1},{"p":"d","l":27,"z":32,"t":9.2},{"p":"d","l":27,"z":43,"t":9.5},{"p":"d","l":27,"z":32,"t":5.2},{"p":"d","l":27,"z":26,"t":0},{"p":"d","l":27,"z":32,"t":-5.2},{"p":"d","l":27,"z":43,"t":-9.5},{"p":"d","l":27,"z":32,"t":-9.2},{"p":"d","l":27,"z":20,"t":-5.1},{"p":"d","l":27,"z":13,"t":-6.1},{"p":"d","l":27,"z":0,"t":-7.6},
{"p":"d","l":33,"z":0,"t":6.9},{"p":"d","l":33,"z":13,"t":5.4},{"p":"d","l":33,"z":20,"t":5},{"p":"d","l":33,"z":27,"t":7},{"p":"d","l":33,"z":32,"t":7},{"p":"d","l":33,"z":26,"t":3},{"p":"d","l":33,"z":25,"t":0},{"p":"d","l":33,"z":26,"t":-3},{"p":"d","l":33,"z":32,"t":-7},{"p":"d","l":33,"z":27,"t":-7},{"p":"d","l":33,"z":20,"t":-5},{"p":"d","l":33,"z":13,"t":-5.4},{"p":"d","l":33,"z":0,"t":-6.9},
{"p":"d","l":40,"z":0,"t":6.3},{"p":"d","l":40,"z":13,"t":4.6},{"p":"d","l":40,"z":20,"t":3.1},{"p":"d","l":40,"z":26,"t":0},{"p":"d","l":40,"z":20,"t":-3.1},{"p":"d","l":40,"z":13,"t":-4.6},{"p":"d","l":40,"z":0,"t":-6.3},
{"p":"d","l":47,"z":0,"t":5.7},{"p":"d","l":47,"z":13,"t":3.8},{"p":"d","l":47,"z":20,"t":1.6},{"p":"d","l":47,"z":23,"t":0},{"p":"d","l":47,"z":20,"t":-1.6},{"p":"d","l":47,"z":13,"t":-3.8},{"p":"d","l":47,"z":0,"t":-5.7},
{"p":"d","l":54,"z":0,"t":5.2},{"p":"d","l":54,"z":13,"t":2.9},{"p":"d","l":54,"z":18,"t":0},{"p":"d","l":54,"z":13,"t":-2.9},{"p":"d","l":54,"z":0,"t":-5.2},
{"p":"d","l":61,"z":0,"t":4.6},{"p":"d","l":61,"z":7,"t":3.8},{"p":"d","l":61,"z":13,"t":1.8},{"p":"d","l":61,"z":15,"t":0},{"p":"d","l":61,"z":13,"t":-1.8},{"p":"d","l":61,"z":7,"t":-3.8},{"p":"d","l":61,"z":0,"t":-4.6},
{"p":"d","l":68,"z":0,"t":4.1},{"p":"d","l":68,"z":7,"t":3.1},{"p":"d","l":68,"z":12,"t":0},{"p":"d","l":68,"z":7,"t":-3.1},{"p":"d","l":68,"z":0,"t":-4.1},
{"p":"d","l":75,"z":0,"t":3.5},{"p":"d","l":75,"z":5,"t":2.7},{"p":"d","l":75,"z":10,"t":0},{"p":"d","l":75,"z":5,"t":-2.7},{"p":"d","l":75,"z":0,"t":-3.5},
{"p":"d","l":82,"z":0,"t":2.9},{"p":"d","l":82,"z":5,"t":1.9},{"p":"d","l":82,"z":8,"t":0},{"p":"d","l":82,"z":5,"t":-1.9},{"p":"d","l":82,"z":0,"t":-2.9},
{"p":"d","l":89,"z":0,"t":2.2},{"p":"d","l":89,"z":6,"t":0},{"p":"d","l":89,"z":0,"t":-2.2},
{"p":"d","l":95,"z":0,"t":1.5},{"p":"d","l":95,"z":3.5,"t":0},{"p":"d","l":95,"z":0,"t":-1.5}
]},
"transform":[
{"calculate":"(datum.z+1.5)/103","as":"s0"},
{"calculate":"0.95*datum.s0/(1-0.05*datum.s0)","as":"u"},
{"calculate":"(datum.t+21.2)/42.4","as":"r0"},
{"calculate":"1.15*datum.r0/(1+0.15*datum.r0)","as":"v"},
{"calculate":"0.0097*(isValid(datum.i)?datum.i:(datum.l||0))","as":"w"},
{"calculate":"(1-datum.w)*((1-datum.u)*(1-datum.v)*199.3+datum.u*(1-datum.v)*668+datum.u*datum.v*957.5+(1-datum.u)*datum.v*518.3)+datum.w*((1-datum.u)*(1-datum.v)*177.8+datum.u*(1-datum.v)*679.7+datum.u*datum.v*977.1+(1-datum.u)*datum.v*513)","as":"X"},
{"calculate":"(1-datum.w)*((1-datum.u)*(1-datum.v)*443.9+datum.u*(1-datum.v)*676+datum.u*datum.v*344.4+(1-datum.u)*datum.v*168.4)+datum.w*((1-datum.u)*(1-datum.v)*270.4+datum.u*(1-datum.v)*494.9+datum.u*datum.v*173.5+(1-datum.u)*datum.v*1.5)","as":"Y"}
],
"concat":[
{"width":1050,"height":806,"transform":[{"filter":"datum.p=='a'||datum.p=='*'"}],"encoding":{"x":{"field":"X","type":"quantitative","scale":{"domain":[0,1050]},"axis":null},"y":{"field":"Y","type":"quantitative","scale":{"domain":[821.4,-1]},"axis":null}},
"layer":[
{"transform":[{"filter":"datum.c=='g'"}],"mark":{"type":"line","color":"#bdbdbd","strokeWidth":2},"encoding":{"detail":{"field":"e"},"order":{"value":null}}},
{"transform":[{"filter":"datum.l==0"}],"mark":{"type":"line","filled":true,"strokeWidth":0,"fill":"#702b8c"},"encoding":{"detail":{"field":"l"},"order":{"value":null}}},
{"transform":[{"filter":"datum.l>0&&datum.l<=12"}],"mark":{"type":"line","filled":true,"strokeWidth":4,"strokeOpacity":0.5},"encoding":{"detail":{"field":"l"},"order":{"value":null},"fill":{"field":"l","type":"quantitative","legend":null,"scale":{"domain":[3,7,12,17,22,27,33,40,47,54,61,68,75,82,89,95],"range":["#5d3391","#48409a","#40489f","#4559a8","#4c6ab2","#5a90cb","#69b2dc","#78c9bb","#93d38c","#b0d96f","#d3de57","#ebe146","#f1b83f","#ee8a3a","#e85c36","#df2d31"]}},"stroke":{"field":"l","type":"quantitative","legend":null,"scale":{"domain":[3,7,12,17,22,27,33,40,47,54,61,68,75,82,89,95],"range":["#5d3391","#48409a","#40489f","#4559a8","#4c6ab2","#5a90cb","#69b2dc","#78c9bb","#93d38c","#b0d96f","#d3de57","#ebe146","#f1b83f","#ee8a3a","#e85c36","#df2d31"]}}}},
{"transform":[{"filter":"datum.l>12"}],"mark":{"type":"line","filled":true,"interpolate":"cardinal-closed","tension":0.5,"strokeWidth":7,"strokeOpacity":0.45},"encoding":{"detail":{"field":"l"},"order":{"value":null},"fill":{"field":"l","type":"quantitative","legend":null},"stroke":{"field":"l","type":"quantitative","legend":null}}},
{"transform":[{"filter":"isValid(datum.h)"}],"mark":{"type":"line","filled":true,"fill":"black","fillOpacity":0.09,"strokeWidth":0},"encoding":{"detail":{"field":"h"},"order":{"value":null}}},
{"transform":[{"filter":"datum.c=='g'"}],"mark":{"type":"line","color":"#bdbdbd","strokeWidth":2,"opacity":0.12},"encoding":{"detail":{"field":"e"},"order":{"value":null}}},
{"transform":[{"filter":"datum.c=='k'"}],"mark":{"type":"line","color":"black","strokeWidth":3,"strokeJoin":"round"},"encoding":{"detail":{"field":"e"},"order":{"value":null}}},
{"transform":[{"filter":"datum.f=='r'"}],"mark":{"type":"text","font":"Liberation Serif","fontSize":54,"color":"#111"},"encoding":{"text":{"field":"s"},"angle":{"condition":[{"test":"datum.o=='v'","value":270},{"test":"datum.o=='z'","value":33},{"test":"datum.o=='t'","value":313}],"value":0}}},
{"transform":[{"filter":"datum.f=='i'"}],"mark":{"type":"text","font":"Liberation Serif","fontStyle":"italic","fontSize":54,"color":"#111"},"encoding":{"text":{"field":"s"},"angle":{"condition":[{"test":"datum.o=='v'","value":270},{"test":"datum.o=='z'","value":33},{"test":"datum.o=='t'","value":313}],"value":0}}}
]},
{"width":1050,"height":806,"transform":[{"filter":"datum.p=='b'||datum.p=='*'"}],"encoding":{"x":{"field":"X","type":"quantitative","scale":{"domain":[0,1050]},"axis":null},"y":{"field":"Y","type":"quantitative","scale":{"domain":[821.4,-1]},"axis":null}},
"layer":[
{"transform":[{"filter":"datum.c=='g'"}],"mark":{"type":"line","color":"#bdbdbd","strokeWidth":2},"encoding":{"detail":{"field":"e"},"order":{"value":null}}},
{"transform":[{"filter":"datum.l==0"}],"mark":{"type":"line","filled":true,"strokeWidth":0,"fill":"#702b8c"},"encoding":{"detail":{"field":"l"},"order":{"value":null}}},
{"transform":[{"filter":"datum.l>0&&datum.l<=12"}],"mark":{"type":"line","filled":true,"strokeWidth":4,"strokeOpacity":0.5},"encoding":{"detail":{"field":"l"},"order":{"value":null},"fill":{"field":"l","type":"quantitative","legend":null,"scale":{"domain":[3,7,12,17,22,27,33,40,47,54,61,68,75,82,89,95],"range":["#5d3391","#48409a","#40489f","#4559a8","#4c6ab2","#5a90cb","#69b2dc","#78c9bb","#93d38c","#b0d96f","#d3de57","#ebe146","#f1b83f","#ee8a3a","#e85c36","#df2d31"]}},"stroke":{"field":"l","type":"quantitative","legend":null,"scale":{"domain":[3,7,12,17,22,27,33,40,47,54,61,68,75,82,89,95],"range":["#5d3391","#48409a","#40489f","#4559a8","#4c6ab2","#5a90cb","#69b2dc","#78c9bb","#93d38c","#b0d96f","#d3de57","#ebe146","#f1b83f","#ee8a3a","#e85c36","#df2d31"]}}}},
{"transform":[{"filter":"datum.l>12"}],"mark":{"type":"line","filled":true,"interpolate":"cardinal-closed","tension":0.5,"strokeWidth":7,"strokeOpacity":0.45},"encoding":{"detail":{"field":"l"},"order":{"value":null},"fill":{"field":"l","type":"quantitative","legend":null},"stroke":{"field":"l","type":"quantitative","legend":null}}},
{"transform":[{"filter":"isValid(datum.h)"}],"mark":{"type":"line","filled":true,"fill":"black","fillOpacity":0.09,"strokeWidth":0},"encoding":{"detail":{"field":"h"},"order":{"value":null}}},
{"transform":[{"filter":"datum.c=='g'"}],"mark":{"type":"line","color":"#bdbdbd","strokeWidth":2,"opacity":0.12},"encoding":{"detail":{"field":"e"},"order":{"value":null}}},
{"transform":[{"filter":"datum.c=='k'"}],"mark":{"type":"line","color":"black","strokeWidth":3,"strokeJoin":"round"},"encoding":{"detail":{"field":"e"},"order":{"value":null}}},
{"transform":[{"filter":"datum.f=='r'"}],"mark":{"type":"text","font":"Liberation Serif","fontSize":54,"color":"#111"},"encoding":{"text":{"field":"s"},"angle":{"condition":[{"test":"datum.o=='v'","value":270},{"test":"datum.o=='z'","value":33},{"test":"datum.o=='t'","value":313}],"value":0}}},
{"transform":[{"filter":"datum.f=='i'"}],"mark":{"type":"text","font":"Liberation Serif","fontStyle":"italic","fontSize":54,"color":"#111"},"encoding":{"text":{"field":"s"},"angle":{"condition":[{"test":"datum.o=='v'","value":270},{"test":"datum.o=='z'","value":33},{"test":"datum.o=='t'","value":313}],"value":0}}}
]},
{"width":1050,"height":788,"transform":[{"filter":"datum.p=='c'||datum.p=='*'"}],"encoding":{"x":{"field":"X","type":"quantitative","scale":{"domain":[0,1050]},"axis":null},"y":{"field":"Y","type":"quantitative","scale":{"domain":[803.1,-1]},"axis":null}},
"layer":[
{"transform":[{"filter":"datum.c=='g'"}],"mark":{"type":"line","color":"#bdbdbd","strokeWidth":2},"encoding":{"detail":{"field":"e"},"order":{"value":null}}},
{"transform":[{"filter":"datum.l==0"}],"mark":{"type":"line","filled":true,"strokeWidth":0,"fill":"#702b8c"},"encoding":{"detail":{"field":"l"},"order":{"value":null}}},
{"transform":[{"filter":"datum.l>0&&datum.l<=12"}],"mark":{"type":"line","filled":true,"strokeWidth":4,"strokeOpacity":0.5},"encoding":{"detail":{"field":"l"},"order":{"value":null},"fill":{"field":"l","type":"quantitative","legend":null,"scale":{"domain":[3,7,12,17,22,27,33,40,47,54,61,68,75,82,89,95],"range":["#5d3391","#48409a","#40489f","#4559a8","#4c6ab2","#5a90cb","#69b2dc","#78c9bb","#93d38c","#b0d96f","#d3de57","#ebe146","#f1b83f","#ee8a3a","#e85c36","#df2d31"]}},"stroke":{"field":"l","type":"quantitative","legend":null,"scale":{"domain":[3,7,12,17,22,27,33,40,47,54,61,68,75,82,89,95],"range":["#5d3391","#48409a","#40489f","#4559a8","#4c6ab2","#5a90cb","#69b2dc","#78c9bb","#93d38c","#b0d96f","#d3de57","#ebe146","#f1b83f","#ee8a3a","#e85c36","#df2d31"]}}}},
{"transform":[{"filter":"datum.l>12"}],"mark":{"type":"line","filled":true,"interpolate":"cardinal-closed","tension":0.5,"strokeWidth":7,"strokeOpacity":0.45},"encoding":{"detail":{"field":"l"},"order":{"value":null},"fill":{"field":"l","type":"quantitative","legend":null},"stroke":{"field":"l","type":"quantitative","legend":null}}},
{"transform":[{"filter":"isValid(datum.h)"}],"mark":{"type":"line","filled":true,"fill":"black","fillOpacity":0.09,"strokeWidth":0},"encoding":{"detail":{"field":"h"},"order":{"value":null}}},
{"transform":[{"filter":"datum.c=='g'"}],"mark":{"type":"line","color":"#bdbdbd","strokeWidth":2,"opacity":0.12},"encoding":{"detail":{"field":"e"},"order":{"value":null}}},
{"transform":[{"filter":"datum.c=='k'"}],"mark":{"type":"line","color":"black","strokeWidth":3,"strokeJoin":"round"},"encoding":{"detail":{"field":"e"},"order":{"value":null}}},
{"transform":[{"filter":"datum.f=='r'"}],"mark":{"type":"text","font":"Liberation Serif","fontSize":54,"color":"#111"},"encoding":{"text":{"field":"s"},"angle":{"condition":[{"test":"datum.o=='v'","value":270},{"test":"datum.o=='z'","value":33},{"test":"datum.o=='t'","value":313}],"value":0}}},
{"transform":[{"filter":"datum.f=='i'"}],"mark":{"type":"text","font":"Liberation Serif","fontStyle":"italic","fontSize":54,"color":"#111"},"encoding":{"text":{"field":"s"},"angle":{"condition":[{"test":"datum.o=='v'","value":270},{"test":"datum.o=='z'","value":33},{"test":"datum.o=='t'","value":313}],"value":0}}}
]},
{"width":1050,"height":788,"transform":[{"filter":"datum.p=='d'||datum.p=='*'"}],"encoding":{"x":{"field":"X","type":"quantitative","scale":{"domain":[0,1050]},"axis":null},"y":{"field":"Y","type":"quantitative","scale":{"domain":[803.1,-1]},"axis":null}},
"layer":[
{"transform":[{"filter":"datum.c=='g'"}],"mark":{"type":"line","color":"#bdbdbd","strokeWidth":2},"encoding":{"detail":{"field":"e"},"order":{"value":null}}},
{"transform":[{"filter":"datum.l==0"}],"mark":{"type":"line","filled":true,"strokeWidth":0,"fill":"#702b8c"},"encoding":{"detail":{"field":"l"},"order":{"value":null}}},
{"transform":[{"filter":"datum.l>0&&datum.l<=12"}],"mark":{"type":"line","filled":true,"strokeWidth":4,"strokeOpacity":0.5},"encoding":{"detail":{"field":"l"},"order":{"value":null},"fill":{"field":"l","type":"quantitative","legend":null,"scale":{"domain":[3,7,12,17,22,27,33,40,47,54,61,68,75,82,89,95],"range":["#5d3391","#48409a","#40489f","#4559a8","#4c6ab2","#5a90cb","#69b2dc","#78c9bb","#93d38c","#b0d96f","#d3de57","#ebe146","#f1b83f","#ee8a3a","#e85c36","#df2d31"]}},"stroke":{"field":"l","type":"quantitative","legend":null,"scale":{"domain":[3,7,12,17,22,27,33,40,47,54,61,68,75,82,89,95],"range":["#5d3391","#48409a","#40489f","#4559a8","#4c6ab2","#5a90cb","#69b2dc","#78c9bb","#93d38c","#b0d96f","#d3de57","#ebe146","#f1b83f","#ee8a3a","#e85c36","#df2d31"]}}}},
{"transform":[{"filter":"datum.l>12"}],"mark":{"type":"line","filled":true,"interpolate":"cardinal-closed","tension":0.5,"strokeWidth":7,"strokeOpacity":0.45},"encoding":{"detail":{"field":"l"},"order":{"value":null},"fill":{"field":"l","type":"quantitative","legend":null},"stroke":{"field":"l","type":"quantitative","legend":null}}},
{"transform":[{"filter":"isValid(datum.h)"}],"mark":{"type":"line","filled":true,"fill":"black","fillOpacity":0.09,"strokeWidth":0},"encoding":{"detail":{"field":"h"},"order":{"value":null}}},
{"transform":[{"filter":"datum.c=='g'"}],"mark":{"type":"line","color":"#bdbdbd","strokeWidth":2,"opacity":0.12},"encoding":{"detail":{"field":"e"},"order":{"value":null}}},
{"transform":[{"filter":"datum.c=='k'"}],"mark":{"type":"line","color":"black","strokeWidth":3,"strokeJoin":"round"},"encoding":{"detail":{"field":"e"},"order":{"value":null}}},
{"transform":[{"filter":"datum.f=='r'"}],"mark":{"type":"text","font":"Liberation Serif","fontSize":54,"color":"#111"},"encoding":{"text":{"field":"s"},"angle":{"condition":[{"test":"datum.o=='v'","value":270},{"test":"datum.o=='z'","value":33},{"test":"datum.o=='t'","value":313}],"value":0}}},
{"transform":[{"filter":"datum.f=='i'"}],"mark":{"type":"text","font":"Liberation Serif","fontStyle":"italic","fontSize":54,"color":"#111"},"encoding":{"text":{"field":"s"},"angle":{"condition":[{"test":"datum.o=='v'","value":270},{"test":"datum.o=='z'","value":33},{"test":"datum.o=='t'","value":313}],"value":0}}}
]}
]}
